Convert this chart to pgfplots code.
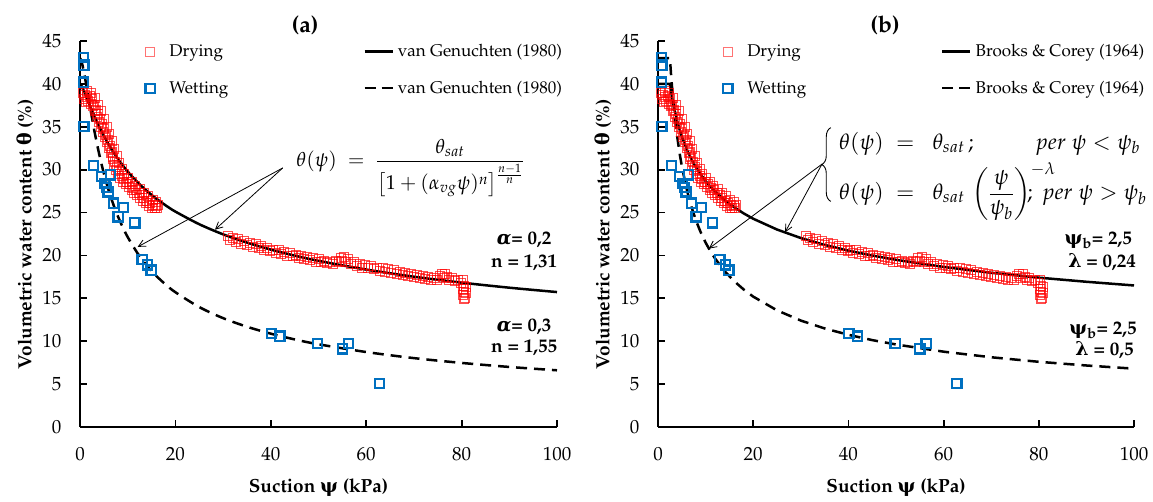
\documentclass[border=0pt]{standalone}
\usepackage{fontspec}
\usepackage{amsmath}
\usepackage[T1]{fontenc}
\usepackage{mathpazo}
\usepackage{pgfplots}
\usepackage{pgfplotstable}
\pgfplotsset{compat=1.18}
\usetikzlibrary{arrows.meta,decorations.pathreplacing}
\newfontfamily\grk{DejaVu Serif}
\definecolor{wetblue}{RGB}{0,112,192}

\pgfplotstableread{
x y
0.6 39.0
0.8 38.2
1.0 38.7
1.2 37.9
1.5 38.5
1.7 38.0
2.0 38.6
2.2 37.7
2.5 38.2
2.7 37.4
3.0 37.6
3.2 36.8
3.4 37.0
3.6 36.2
3.8 36.5
4.0 35.6
4.2 35.9
4.4 35.0
4.6 35.3
4.8 34.4
5.0 34.8
5.2 33.8
5.4 34.0
5.6 33.2
5.8 33.5
6.0 32.5
6.2 32.8
6.4 31.9
6.6 32.1
6.8 31.2
7.0 31.5
7.2 30.6
7.4 30.9
7.6 30.0
7.8 30.3
8.0 29.5
8.2 29.8
8.4 29.0
8.7 29.3
9.0 28.6
9.3 28.9
9.6 28.3
9.9 28.6
10.2 28.0
10.5 28.3
10.8 27.6
11.1 27.9
11.4 27.3
11.7 27.6
12.0 27.0
12.3 27.3
12.6 26.7
12.9 27.0
13.2 26.4
13.5 26.7
13.8 26.1
14.1 26.4
14.4 25.8
14.7 26.1
15.0 25.6
15.3 25.9
15.6 25.5
15.9 25.8
16.1 25.6
1.5 39.2
2.3 38.9
3.1 38.4
3.8 37.6
4.4 36.8
5.0 35.9
5.6 35.0
6.1 34.2
6.7 33.3
7.2 32.4
7.7 31.6
8.2 30.8
8.7 30.1
9.3 29.5
10.0 29.0
10.8 28.6
11.6 28.1
12.5 27.7
13.4 27.3
14.3 26.9
15.2 26.5
16.0 26.2
16.4 25.9
31.0 22.3
31.5 21.8
32.0 22.1
32.6 21.6
33.2 21.9
33.8 21.4
34.4 21.7
35.0 21.2
35.6 21.5
36.2 21.0
36.8 21.3
37.4 20.9
38.0 21.1
38.6 20.6
39.2 20.9
39.8 20.5
40.4 20.7
41.0 20.3
41.6 20.6
42.2 20.2
42.8 20.4
43.4 20.0
44.0 20.3
44.6 19.9
45.2 20.1
45.8 19.7
46.4 20.0
47.0 19.6
47.6 19.8
48.2 19.5
48.8 19.7
49.4 19.3
50.0 19.6
50.6 19.2
51.2 19.4
51.8 19.1
52.4 19.3
53.0 19.0
53.6 19.4
54.2 19.2
54.6 19.7
55.0 19.4
55.4 19.8
55.8 19.3
56.2 19.6
56.8 19.0
57.4 19.2
58.0 18.8
58.6 19.0
59.2 18.6
59.8 18.9
60.4 18.5
61.0 18.8
61.6 18.4
62.2 18.6
62.8 18.2
63.4 18.5
64.0 18.1
64.6 18.4
65.2 18.0
65.8 18.3
66.4 17.9
67.0 18.1
67.6 17.7
68.2 18.0
68.8 17.6
69.4 17.8
70.0 17.5
70.6 17.7
71.2 17.4
71.8 17.6
72.4 17.3
73.0 17.5
73.6 17.2
74.2 17.4
74.8 17.1
75.4 17.6
75.8 17.9
76.2 17.4
76.6 17.8
77.0 17.5
77.4 17.2
78.0 17.4
78.6 17.0
79.2 17.2
79.8 16.8
80.2 17.1
80.4 16.5
80.2 16.1
80.5 15.8
80.3 15.4
80.6 15.1
80.4 14.9
80.8 16.3
80.9 15.6
}\drying

\pgfplotstableread{
x y
0.7 43.1
0.8 42.2
0.7 40.2
0.8 35.0
2.8 30.5
4.5 29.2
5.2 28.4
5.6 27.9
5.9 27.4
6.4 29.4
7.0 26.1
8.0 24.5
9.1 25.6
11.5 23.8
13.0 19.5
14.2 18.9
14.9 18.3
40.1 10.9
41.9 10.6
49.8 9.7
55.0 9.1
56.3 9.7
62.8 5.1
}\wetting

\pgfplotstableread{
x y
0 40.00
0.25 39.82
0.5 39.55
1 38.93
1.5 38.26
2 37.58
3 36.27
4 35.05
5 33.95
6 32.95
7 32.04
8 31.22
9 30.47
10 29.78
12 28.57
14 27.52
16 26.62
18 25.82
20 25.11
25 23.64
30 22.46
35 21.50
40 20.68
45 19.98
50 19.37
60 18.35
70 17.52
80 16.83
90 16.24
100 15.73
}\vgdry

\pgfplotstableread{
x y
0 43.00
0.25 42.73
0.5 42.22
1 40.86
1.5 39.28
2 37.66
3 34.57
4 31.87
5 29.56
6 27.60
7 25.93
8 24.49
9 23.24
10 22.14
12 20.31
14 18.83
16 17.61
18 16.59
20 15.71
25 13.98
30 12.69
35 11.69
40 10.88
45 10.21
50 9.64
60 8.74
70 8.03
80 7.47
90 7.00
100 6.61
}\vgwet

\pgfplotstableread{
x y
0 40.00
2.5 40.00
2.75 39.10
3 38.29
3.5 36.90
4 35.73
4.5 34.74
5 33.87
6 32.42
7 31.24
8 30.26
9 29.42
10 28.68
11 28.03
12 27.45
14 26.45
16 25.62
18 24.90
20 24.28
25 23.02
30 22.03
35 21.23
40 20.56
45 19.99
50 19.49
60 18.66
70 17.98
80 17.41
90 16.93
100 16.50
}\bcdry

\pgfplotstableread{
x y
0 43.00
2.5 43.00
2.75 41.00
3 39.25
3.5 36.34
4 34.00
4.5 32.05
5 30.41
6 27.76
7 25.70
8 24.04
9 22.66
10 21.50
11 20.50
12 19.63
14 18.17
16 17.00
18 16.03
20 15.20
25 13.60
30 12.41
35 11.49
40 10.75
45 10.13
50 9.62
60 8.78
70 8.13
80 7.60
90 7.17
100 6.80
}\bcwet

\pgfplotsset{
  myaxis/.style={
    scale only axis, height=386pt,
    xmin=0, xmax=100, ymin=0, ymax=45,
    axis x line*=bottom, axis y line*=left,
    axis line style={line width=1.8pt, -},
    xtick={0,20,...,100}, ytick={0,5,...,45},
    tick style={line width=1.8pt, black},
    major tick length=7pt, tick align=inside,
    ticklabel style={font=\fontsize{19}{22}\selectfont},
    xticklabel style={yshift=-17pt},
    yticklabel style={xshift=-15pt},
    xlabel={Suction {\grk ψ} (kPa)},
    ylabel={Volumetric water content {\grk θ} (\%)},
    label style={font=\fontsize{19}{22}\selectfont\bfseries},
    xlabel style={at={(axis description cs:0.5,-0.158)}, anchor=center},
    ylabel style={at={(axis description cs:-0.1153,0.5)}, anchor=center},
    clip=false,
    legend columns=2,
    legend cell align=left,
    legend style={at={(axis cs:12.0,45.08)}, anchor=north west, draw=none, fill=none,
      font=\fontsize{17}{20}\selectfont, row sep=19pt,
      /tikz/every odd column/.append style={column sep=2pt},
      /tikz/every even column/.append style={column sep=133pt}},
  },
  drystyle/.style={only marks, mark=square, mark size=4.5pt, draw=red, draw opacity=0.7, line width=0.8pt},
  drylegend/.style={only marks, mark=square, mark size=4.5pt, draw=red, draw opacity=0.55, line width=0.8pt},
  wetstyle/.style={only marks, mark=square, mark size=4.6pt, draw=wetblue, line width=2.2pt},
  marklegend/.style={legend image code/.code={\draw[##1] plot coordinates {(0.3cm,0cm)}; \path (0cm,0cm) (0.8cm,0cm);}},
  solidlegend/.style={legend image code/.code={\draw[black,line width=2.5pt] (0pt,0pt) -- (28pt,0pt);}},
  dashlegend/.style={legend image code/.code={\draw[black,line width=2.5pt,dash pattern=on 11pt off 6pt] (0pt,0pt) -- (28pt,0pt);}},
}
\tikzset{param/.style={font=\fontsize{19}{22}\selectfont\bfseries}}

\begin{document}
\begin{tikzpicture}
\useasboundingbox (0,0) rectangle (1153pt,502pt);
% ---------------- (a) ----------------
\begin{axis}[myaxis, width=477pt, at={(80pt,75pt)}, anchor=south west]
\addlegendimage{drylegend, marklegend}
\addlegendentry{Drying}
\addlegendimage{solidlegend}
\addlegendentry{van Genuchten (1980)}
\addlegendimage{wetstyle, marklegend}
\addlegendentry{Wetting}
\addlegendimage{dashlegend}
\addlegendentry{van Genuchten (1980)}

\addplot[drystyle, forget plot] table {\drying};
\addplot[wetstyle, forget plot] table {\wetting};
\addplot[black, line width=2.5pt, smooth, forget plot] table {\vgdry};
\addplot[black, line width=2.5pt, smooth, dash pattern=on 11pt off 7pt, forget plot] table {\vgwet};

\node[font=\fontsize{23}{26}\selectfont\bfseries] at (axis description cs:0.472,1.041) {(a)};
\node[anchor=west, inner sep=0pt, font=\fontsize{20}{24}\selectfont] at (axis cs:45.3,30.2)
  {$\theta(\psi)\;=\;\dfrac{\theta_{sat}}{\left[1+(\alpha_{vg}\psi)^{n}\right]^{\frac{n-1}{n}}}$};
\draw[-{Straight Barb[length=7pt,width=7pt]}, line width=0.8pt] (axis cs:42.5,30.2) -- (axis cs:12.1,21.0);
\draw[-{Straight Barb[length=7pt,width=7pt]}, line width=0.8pt] (axis cs:42.5,30.2) -- (axis cs:28.3,23.0);
\node[param] at (axis cs:93.1,21.8) {{\grk\itshape α}= 0,2};
\node[param] at (axis cs:93.1,19.1) {n = 1,31};
\node[param] at (axis cs:93.1,11.7) {{\grk\itshape α}= 0,3};
\node[param] at (axis cs:93.1,9.2) {n = 1,55};
\end{axis}
% ---------------- (b) ----------------
\begin{axis}[myaxis, width=476pt, at={(658pt,75pt)}, anchor=south west]
\addlegendimage{drylegend, marklegend}
\addlegendentry{Drying}
\addlegendimage{solidlegend}
\addlegendentry{Brooks \& Corey (1964)}
\addlegendimage{wetstyle, marklegend}
\addlegendentry{Wetting}
\addlegendimage{dashlegend}
\addlegendentry{Brooks \& Corey (1964)}

\addplot[drystyle, forget plot] table {\drying};
\addplot[wetstyle, forget plot] table {\wetting};
\addplot[black, line width=2.5pt, forget plot] table {\bcdry};
\addplot[black, line width=2.5pt, dash pattern=on 11pt off 7pt, forget plot] table {\bcwet};

\node[font=\fontsize{23}{26}\selectfont\bfseries] at (axis description cs:0.477,1.041) {(b)};
\draw[decorate, decoration={brace, amplitude=9pt}, line width=0.9pt] (axis cs:36.3,26.3) -- (axis cs:36.3,34.9);
\node[anchor=base west, inner sep=0pt, font=\fontsize{22}{26}\selectfont] at (axis cs:38.0,32.4)
  {$\theta(\psi)\;=\;\;\theta_{sat}\,;$};
\node[anchor=base east, inner sep=0pt, font=\fontsize{22}{26}\selectfont] at (axis cs:101.3,32.4)
  {$per\ \psi<\psi_b$};
\node[anchor=base west, inner sep=0pt, font=\fontsize{22}{26}\selectfont] at (axis cs:38.0,26.5)
  {$\theta(\psi)\;=\;\;\theta_{sat}\,\left(\dfrac{\psi}{\psi_b}\right)^{-\lambda}$};
\node[anchor=base east, inner sep=0pt, font=\fontsize{22}{26}\selectfont] at (axis cs:102.7,26.5)
  {$;\ per\ \psi>\psi_b$};
\draw[-{Straight Barb[length=7pt,width=7pt]}, line width=0.8pt] (axis cs:34.45,30.65) -- (axis cs:10.7,20.8);
\draw[-{Straight Barb[length=7pt,width=7pt]}, line width=0.8pt] (axis cs:34.45,30.65) -- (axis cs:26.7,22.7);
\node[param] at (axis cs:92.5,21.8) {{\grk ψ}\textsubscript{b}= 2,5};
\node[param] at (axis cs:93.3,19.2) {{\grk λ} = 0,24};
\node[param] at (axis cs:93.5,11.3) {{\grk ψ}\textsubscript{b}= 2,5};
\node[param] at (axis cs:93.8,9.0) {{\grk λ} = 0,5};
\end{axis}
\end{tikzpicture}
\end{document}
